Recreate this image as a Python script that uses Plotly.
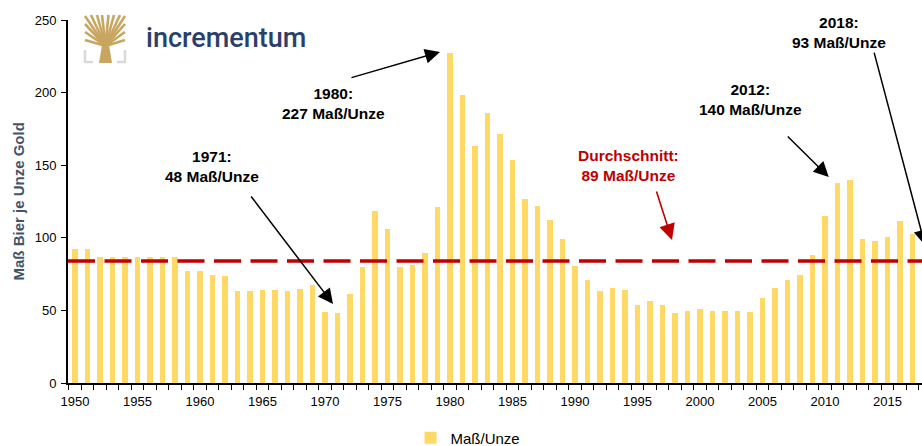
import plotly.graph_objects as go

# ---------------- data ----------------
years = list(range(1950, 2019))
mass_per_ounce = [
    92, 92, 86.7, 86.7, 86.7, 87, 86.7, 86.7, 86.7, 77.3,   # 1950-1959
    77, 74.3, 74, 63.7, 63.5, 64, 64, 63.7, 64.4, 67.2,     # 1960-1969
    48.8, 48.3, 61, 79.8, 118.2, 106, 79.8, 81.2, 89.7, 121.4,  # 1970-1979
    227, 198.4, 163.2, 185.8, 171.3, 153.4, 126.9, 121.9, 112.2, 99.1,  # 1980-1989
    80.3, 71, 63.7, 65.3, 63.9, 53.6, 56.3, 53.4, 47.9, 49.4,  # 1990-1999
    51.3, 49.9, 49.4, 49.9, 48.8, 58.4, 65.3, 70.8, 74.3, 88.1,  # 2000-2009
    114.7, 138, 140, 99.1, 97.5, 100.7, 111.7, 102.6, 93,      # 2010-2018
]
average_line = 84
series_name = "Maß/Unze"
y_title = "Maß Bier je Unze Gold"
x_tick_labels = list(range(1950, 2016, 5))
y_tick_values = [0, 50, 100, 150, 200, 250]

# ---------------- layout helpers ----------------
W, H = 922, 446
L, T, B = 68, 20, 63
plot_w = W - L
plot_h = H - T - B
x_range = [1949.44, 2017.76]
y_range = [0, 250]


def px_x(px):
    return (px - L) / plot_w


def px_y(py):
    return (H - B - py) / plot_h


BAR = "#FFD966"
GOLD = "#C8A660"
FONT = "Liberation Sans, Arial, Helvetica, sans-serif"

fig = go.Figure()
fig.add_trace(go.Bar(
    x=years, y=mass_per_ounce, name=series_name,
    marker=dict(color=BAR, line=dict(width=0)), width=0.45,
    showlegend=True,
))

shapes = []
# average dashed line
shapes.append(dict(type="line", xref="paper", yref="y", x0=0, x1=1,
                   y0=average_line, y1=average_line,
                   line=dict(color="#C00000", width=3.5, dash="27px,9.5px")))

# ---- logo (tree) ----
def seg(x0, y0, x1, y1, color=GOLD, width=2.6):
    return dict(type="line", xref="paper", yref="paper",
                x0=px_x(x0), y0=px_y(y0), x1=px_x(x1), y1=px_y(y1),
                line=dict(color=color, width=width))

# trunk
trunk = [(99, 63), (112, 63), (108.5, 42), (102.5, 42)]
path = "M " + " L ".join(f"{px_x(a)},{px_y(b)}" for a, b in trunk) + " Z"
shapes.append(dict(type="path", xref="paper", yref="paper", path=path,
                   fillcolor=GOLD, line=dict(color=GOLD, width=0)))
# branches
for ex, ey in [(85, 16), (91, 15), (97, 15), (102, 15), (108.5, 15),
               (114, 15), (120, 15), (125, 16), (85, 24), (125, 24),
               (85, 32), (125, 32), (85, 40), (125, 40)]:
    shapes.append(seg(105.5, 46, ex, ey))
# grey brackets
for pts in [[(85, 50), (85, 62), (93, 62)], [(125, 50), (125, 62), (117, 62)]]:
    p = "M " + " L ".join(f"{px_x(a)},{px_y(b)}" for a, b in pts)
    shapes.append(dict(type="path", xref="paper", yref="paper", path=p,
                       line=dict(color="#D9D9D9", width=2.5)))

annotations = []
# logo text
annotations.append(dict(xref="paper", yref="paper", x=px_x(144), y=px_y(38),
                        xanchor="left", yanchor="middle", showarrow=False,
                        text="incrementum",
                        font=dict(family="Roboto, Liberation Sans, sans-serif",
                                  size=27, color="#2B3F6B", weight=500)))

# y-axis title
annotations.append(dict(xref="paper", yref="paper", x=px_x(18), y=0.5,
                        text=f"<b>{y_title}</b>", textangle=-90, showarrow=False,
                        xanchor="center", yanchor="middle",
                        font=dict(family=FONT, size=15, color="#44546A")))

# labels
labels = [
    ("1971:", "48 Maß/Unze", 1960.96, 149.4, "black"),
    ("1980:", "227 Maß/Unze", 1970.64, 192.8, "black"),
    ("2012:", "140 Maß/Unze", 2004.0, 195.2, "black"),
    ("2018:", "93 Maß/Unze", 2011.12, 241.7, "black"),
    ("Durchschnitt:", "89 Maß/Unze", 1994.24, 150.1, "#C00000"),
]
for l1, l2, x, y, c in labels:
    annotations.append(dict(xref="x", yref="y", x=x, y=y, showarrow=False,
                            text=f"<b>{l1}</b><br><b>{l2}</b>",
                            xanchor="center", yanchor="middle", align="center",
                            font=dict(family=FONT, size=15.5, color=c)))

# arrows (tail -> tip) in data coords
arrows = [
    ((1964.0, 129.5), (1970.64, 54.4), "black", 1.5),
    ((1972.0, 210.0), (1979.2, 228.0), "black", 1.5),
    ((2006.9, 170.8), (2010.3, 141.9), "black", 1.5),
    ((2013.9, 228.6), (2018.0, 95.0), "black", 1.5),
    ((1996.48, 132.9), (1997.76, 98.5), "#C00000", 1.6),
]
for (ax, ay), (x, y), c, w in arrows:
    annotations.append(dict(xref="x", yref="y", axref="x", ayref="y",
                            x=x, y=y, ax=ax, ay=ay, text="", showarrow=True,
                            arrowhead=2, arrowsize=2.0, arrowwidth=w,
                            arrowcolor=c, standoff=0))

fig.update_layout(
    width=W, height=H,
    margin=dict(l=L, r=0, t=T, b=B, pad=0, autoexpand=False),
    paper_bgcolor="white", plot_bgcolor="white",
    font=dict(family=FONT, size=13, color="black"),
    bargap=0,
    shapes=shapes,
    annotations=annotations,
    legend=dict(orientation="h", x=px_x(468), y=px_y(438), xanchor="center",
                yanchor="middle", font=dict(size=15, color="black"),
                itemwidth=30, bgcolor="rgba(0,0,0,0)"),
)
fig.update_xaxes(
    range=x_range, showgrid=False, zeroline=False, automargin=False,
    showline=True, linecolor="black", linewidth=2,
    tickmode="array", tickvals=x_tick_labels, ticktext=[str(v) for v in x_tick_labels],
    ticks="", ticklabelstandoff=5,
    minor=dict(tick0=1949.5, dtick=1, ticks="outside", ticklen=5,
               tickcolor="black", tickwidth=1.3, showgrid=False),
    tickfont=dict(size=13, color="black"),
)
fig.update_yaxes(
    range=y_range, showgrid=False, zeroline=False, automargin=False,
    showline=True, linecolor="black", linewidth=2,
    tickmode="array", tickvals=y_tick_values,
    ticks="outside", ticklen=5, tickcolor="black", tickwidth=1.3,
    ticklabelstandoff=2,
    tickfont=dict(size=13, color="black"),
)

fig.write_html("out.html",
               config={"displayModeBar": False},
               post_script="document.body.style.margin='0';"
                           "document.body.style.overflow='hidden';")
